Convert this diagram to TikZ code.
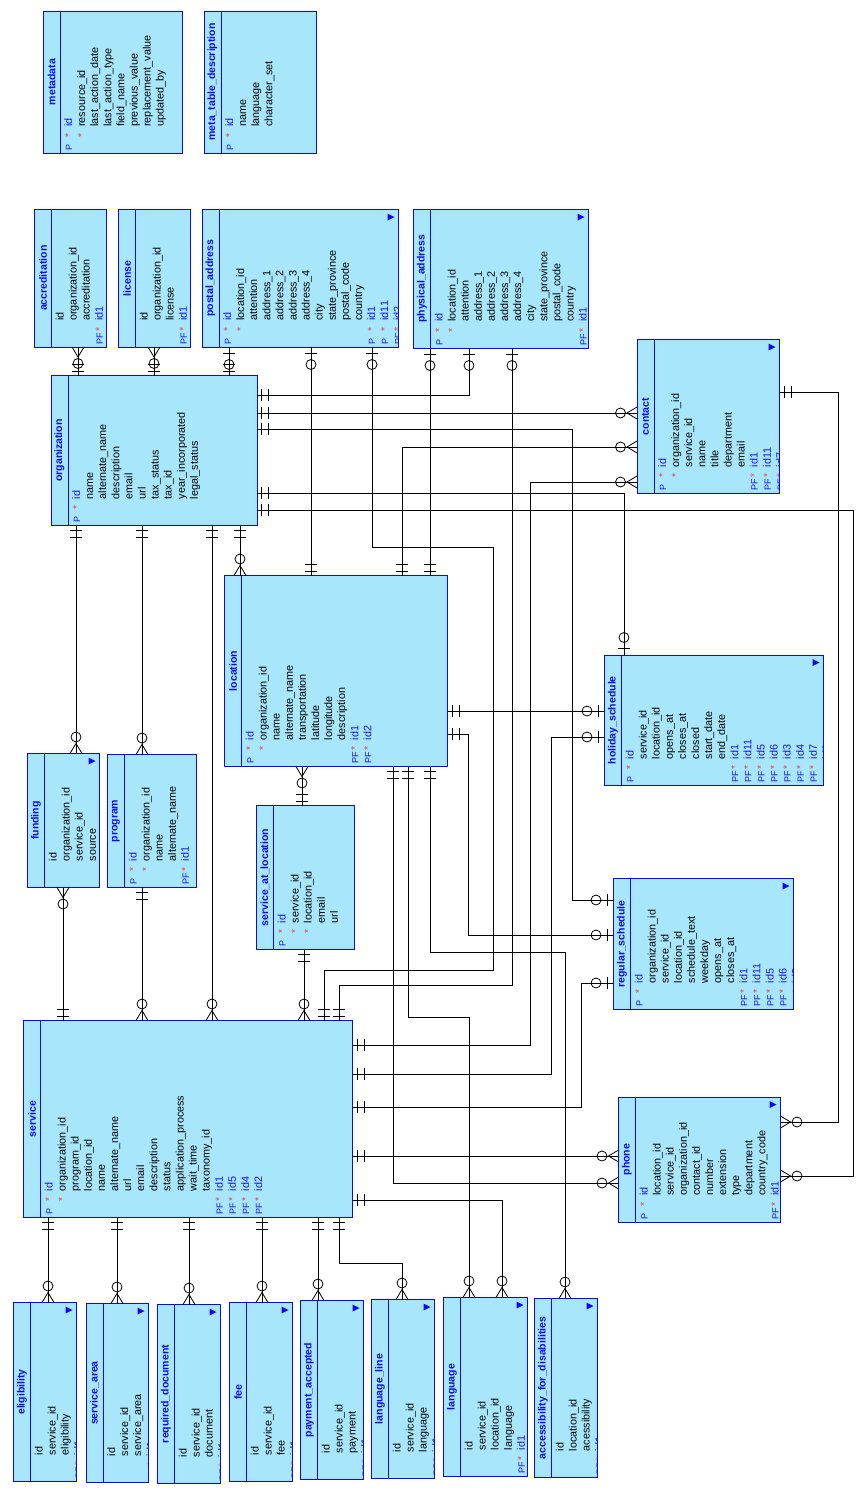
\documentclass[tikz,border=0pt]{standalone}
\usepackage{fontspec}
\setmainfont{Liberation Sans}
\usetikzlibrary{decorations.markings}

\definecolor{tblfill}{RGB}{168,230,252}
\definecolor{tblblue}{RGB}{10,10,240}
\definecolor{keyblue}{RGB}{20,20,230}
\definecolor{starred}{RGB}{235,70,70}

\tikzset{
		tblbox/.style   = {rectangle, fill=tblfill, anchor=north west,
				inner sep=0pt, outer sep=0pt},
		tbledge/.style  = {draw=tblblue, line width=0.9pt},
		tbltitle/.style = {rotate=90, inner sep=0pt, text=tblblue,
				font=\bfseries\fontsize{10.5}{12}\selectfont},
		fldtxt/.style   = {rotate=90, anchor=base west, inner sep=0pt,
				font=\fontsize{10.8}{13}\selectfont},
		keytxt/.style   = {fldtxt, text=keyblue, font=\fontsize{9}{10}\selectfont},
		startxt/.style  = {fldtxt, text=starred, font=\fontsize{10.5}{12}\selectfont},
		link/.style     = {draw=black, line width=0.8pt},
		one start/.style = {postaction={decorate, decoration={markings,
				mark=at position 4.5pt with {\draw (0,-6pt) -- (0,6pt);},
				mark=at position 11.5pt with {\draw (0,-6pt) -- (0,6pt);}}}},
		one end/.style = {postaction={decorate, decoration={markings,
				mark=at position -4.5pt with {\draw (0,-6pt) -- (0,6pt);},
				mark=at position -11.5pt with {\draw (0,-6pt) -- (0,6pt);}}}},
		opt start/.style = {postaction={decorate, decoration={markings,
				mark=at position 6.5pt with {\draw (0,-6pt) -- (0,6pt);},
				mark=at position 17.5pt with {\draw (0,0) circle (5pt);}}}},
		opt end/.style = {postaction={decorate, decoration={markings,
				mark=at position -6.5pt with {\draw (0,-6pt) -- (0,6pt);},
				mark=at position -17.5pt with {\draw (0,0) circle (5pt);}}}},
		many start/.style = {postaction={decorate, decoration={markings,
				mark=at position 10pt with {\draw (-10pt,-6pt) -- (0,0) -- (-10pt,6pt);},
				mark=at position 16.5pt with {\draw (0,0) circle (5pt);}}}},
		many end/.style = {postaction={decorate, decoration={markings,
				mark=at position -10pt with {\draw (10pt,-6pt) -- (0,0) -- (10pt,6pt);},
				mark=at position -16.5pt with {\draw (0,0) circle (5pt);}}}}
	}

\def\rowdash{-}
\def\rowstar{*}

% #1 name, #2 x, #3 y, #4 width, #5 height, #6 title, #7 rows, #8 more columns
\newcommand{\ertable}[8]{%
	\node[tblbox, minimum width=#4, minimum height=#5] (#1) at (#2,#3) {};
	\begin{scope}
		\clip (#1.north west) rectangle (#1.south east);
		\pgfmathsetmacro\by{#3+#5}
		\foreach \rk/\rs/\rn [count=\i from 0] in {#7} {
			\pgfmathsetmacro\bx{#2+29+13.1*\i}
			\ifx\rk\rowdash\def\fldcol{black}\else\def\fldcol{keyblue}%
				\node[keytxt] at (\bx,\by-2.5) {\rk};\fi
			\ifx\rs\rowstar\node[startxt] at (\bx,\by-15.5) {*};\fi
			\node[fldtxt, text=\fldcol] at (\bx,\by-26) {\rn};
		}
	\end{scope}
	\draw[tbledge] (#1.north west) rectangle (#1.south east);
	\draw[tbledge] (#2+17,#3) -- (#2+17,#3+#5);
	\node[tbltitle] at (#2+8.5,#3+#5/2) {#6};
	\ifnum#8=1 \fill[tblblue] (#2+#4-11,#3+4) -- (#2+#4-4,#3+7.5) -- (#2+#4-11,#3+11) -- cycle;\fi
}

\begin{document}
\begin{tikzpicture}[x=1pt, y=-1pt, line width=0.8pt]
	\useasboundingbox (0,0) rectangle (867,1492);
	\fill[white] (0,0) rectangle (867,1492);

	% top tables
	\ertable{meta}{43}{11}{139}{142}{metadata}{P/*/id,-/*/resource\_id,-/-/last\_action\_date,-/-/last\_action\_type,-/-/field\_name,-/-/previous\_value,-/-/replacement\_value,-/-/updated\_by}{0}
	\ertable{metadesc}{204}{11}{112.5}{142}{meta\_table\_description}{P/*/id,-/-/name,-/-/language,-/-/character\_set}{0}
	\ertable{accr}{34.5}{209.5}{71.5}{137.5}{accreditation}{-/-/id,-/-/organization\_id,-/-/accreditation,PF/*/id1}{0}
	\ertable{lic}{118.5}{209.5}{72}{137.5}{license}{-/-/id,-/-/organization\_id,-/-/license,PF/*/id1}{0}
	\ertable{postal}{202}{209.5}{196.5}{137.5}{postal\_address}{P/*/id,-/*/location\_id,-/-/attention,-/-/address\_1,-/-/address\_2,-/-/address\_3,-/-/address\_4,-/-/city,-/-/state\_province,-/-/postal\_code,-/-/country,P/*/id1,P/*/id11,PF/*/id2}{1}
	\ertable{phys}{413.5}{209.5}{175}{138.5}{physical\_address}{P/*/id,-/*/location\_id,-/-/attention,-/-/address\_1,-/-/address\_2,-/-/address\_3,-/-/address\_4,-/-/city,-/-/state\_province,-/-/postal\_code,-/-/country,PF/*/id1}{1}
	\ertable{contact}{637}{339.5}{142.5}{154}{contact}{P/*/id,-/*/organization\_id,-/-/service\_id,-/-/name,-/-/title,-/-/department,-/-/email,PF/*/id1,PF/*/id11,PF/*/id7}{1}

	% middle tables
	\ertable{org}{51}{375.5}{206}{150}{organization}{P/*/id,-/-/name,-/-/alternate\_name,-/-/description,-/-/email,-/-/url,-/-/tax\_status,-/-/tax\_id,-/-/year\_incorporated,-/-/legal\_status}{0}
	\ertable{loc}{224.5}{575.5}{223}{191}{location}{P/*/id,-/*/organization\_id,-/-/name,-/-/alternate\_name,-/-/transportation,-/-/latitude,-/-/longitude,-/-/description,PF/*/id1,PF/*/id2}{0}
	\ertable{holiday}{604.5}{655}{219}{130.5}{holiday\_schedule}{P/*/id,-/-/service\_id,-/-/location\_id,-/-/opens\_at,-/-/closes\_at,-/-/closed,-/-/start\_date,-/-/end\_date,PF/*/id1,PF/*/id11,PF/*/id5,PF/*/id6,PF/*/id3,PF/*/id4,PF/*/id7,PF/*/id2}{1}
	\ertable{regular}{613.5}{878.5}{180}{131}{regular\_schedule}{P/*/id,-/-/organization\_id,-/-/service\_id,-/-/location\_id,-/-/schedule\_text,-/-/weekday,-/-/opens\_at,-/-/closes\_at,PF/*/id1,PF/*/id11,PF/*/id5,PF/*/id6,PF/*/id2}{1}
	\ertable{funding}{27.5}{753.5}{72}{134}{funding}{-/-/id,-/-/organization\_id,-/-/service\_id,-/-/source}{1}
	\ertable{program}{107.5}{754.5}{89}{133}{program}{P/*/id,-/*/organization\_id,-/-/name,-/-/alternate\_name,PF/*/id1}{0}
	\ertable{sal}{256.5}{805.5}{98}{144}{service\_at\_location}{P/*/id,-/*/service\_id,-/*/location\_id,-/-/email,-/-/url}{0}
	\ertable{service}{23.5}{1020.5}{329}{197}{service}{P/*/id,-/*/organization\_id,-/-/program\_id,-/-/location\_id,-/-/name,-/-/alternate\_name,-/-/url,-/-/email,-/-/description,-/-/status,-/-/application\_process,-/-/wait\_time,-/-/taxonomy\_id,PF/*/id1,PF/*/id5,PF/*/id4,PF/*/id2}{0}
	\ertable{phone}{618.5}{1097}{162}{125}{phone}{P/*/id,-/-/location\_id,-/-/service\_id,-/-/organization\_id,-/-/contact\_id,-/-/number,-/-/extension,-/-/type,-/-/department,-/-/country\_code,PF/*/id1}{1}

	% bottom tables
	\ertable{elig}{13.5}{1302.5}{63}{179}{eligibility}{-/-/id,-/-/service\_id,-/-/eligibility,PF/*/id1}{1}
	\ertable{sarea}{86}{1303.5}{62.5}{179}{service\_area}{-/-/id,-/-/service\_id,-/-/service\_area,PF/*/id1}{1}
	\ertable{reqdoc}{157.5}{1304.5}{63}{179}{required\_document}{-/-/id,-/-/service\_id,-/-/document,PF/*/id1}{1}
	\ertable{fee}{229.5}{1302.5}{63}{179}{fee}{-/-/id,-/-/service\_id,-/-/fee,PF/*/id1}{1}
	\ertable{payment}{300.5}{1300.5}{63}{179}{payment\_accepted}{-/-/id,-/-/service\_id,-/-/payment,PF/*/id1}{1}
	\ertable{langline}{371.5}{1299.5}{63}{179}{language\_line}{-/-/id,-/-/service\_id,-/-/language,PF/*/id1}{1}
	\ertable{lang}{443.5}{1297.5}{84}{179}{language}{-/-/id,-/-/service\_id,-/-/location\_id,-/-/language,PF/*/id1}{1}
	\ertable{access}{534.5}{1298.5}{63}{179}{accessibility\_for\_disabilities}{-/-/id,-/-/location\_id,-/-/acessibility,PF/*/id1}{1}

	% relations above organization
	\draw[link, many start, one end] (accr.south -| 78,0) -- (org.north -| 78,0);
	\draw[link, many start, one end] (lic.south -| 154,0) -- (org.north -| 154,0);
	\draw[link, opt start, one end] (postal.south -| 229,0) -- (org.north -| 229,0);
	\draw[link, opt start, one end] (postal.south -| 311,0) -- (loc.north -| 311,0);
	\draw[link, opt start, one end] (postal.south -| 372,0) |- (493,547) |- (324,970) -- (service.north -| 324,0);
	\draw[link, opt start, one end] (phys.south -| 430,0) -- (loc.north -| 430,0);
	\draw[link, one start, opt end] (org.east |- 0,395) -| (phys.south -| 469,0);
	\draw[link, opt start, one end] (phys.south -| 512,0) |- (339,985) -- (service.north -| 339,0);

	% organization to the right
	\draw[link, one start, many end] (org.east |- 0,413) -- (contact.west |- 0,413);
	\draw[link, one start, opt end] (org.east |- 0,429) -| (572,900) -- (regular.west |- 0,900);
	\draw[link, one start, opt end] (org.east |- 0,493) -| (holiday.north -| 624,0);
	\draw[link, one start, many end] (org.east |- 0,510) -| (853,1176) -- (phone.east |- 0,1176);
	\draw[link, one start, many end] (contact.east |- 0,392) -| (838,1122) -- (phone.east |- 0,1122);
	\draw[link, one start, many end] (loc.north -| 402,0) |- (contact.west |- 0,447);
	\draw[link, one start, many end] (service.east |- 0,1045) -| (530,482) -- (contact.west |- 0,482);

	% organization downwards
	\draw[link, one start, many end] (org.south -| 76,0) -- (funding.north -| 76,0);
	\draw[link, one start, many end] (org.south -| 142,0) -- (program.north -| 142,0);
	\draw[link, one start, many end] (org.south -| 212,0) -- (service.north -| 212,0);
	\draw[link, one start, many end] (org.south -| 240,0) -- (loc.north -| 240,0);
	\draw[link, many start, one end] (funding.south -| 63,0) -- (service.north -| 63,0);
	\draw[link, one start, many end] (program.south -| 142,0) -- (service.north -| 142,0);

	% location
	\draw[link, many start, one end] (loc.south -| 302,0) -- (sal.north -| 302,0);
	\draw[link, one start, many end] (sal.south -| 304,0) -- (service.north -| 304,0);
	\draw[link, one start, opt end] (loc.east |- 0,711) -- (holiday.west |- 0,711);
	\draw[link, one start, opt end] (loc.east |- 0,734) -| (468,935) -- (regular.west |- 0,935);
	\draw[link, one start, many end] (loc.south -| 393,0) |- (phone.west |- 0,1183);
	\draw[link, one start, many end] (loc.south -| 408,0) |- (469,1017) -- (lang.north -| 469,0);
	\draw[link, one start, many end] (loc.south -| 430,0) |- (565,952) -- (access.north -| 565,0);

	% service to the right
	\draw[link, one start, opt end] (service.east |- 0,1074) -| (551,737) -- (holiday.west |- 0,737);
	\draw[link, one start, opt end] (service.east |- 0,1107) -| (581,983) -- (regular.west |- 0,983);
	\draw[link, one start, many end] (service.east |- 0,1156) -- (phone.west |- 0,1156);
	\draw[link, one start, many end] (service.east |- 0,1200) -| (lang.north -| 502,0);

	% service downwards
	\draw[link, one start, many end] (service.south -| 48,0) -- (elig.north -| 48,0);
	\draw[link, one start, many end] (service.south -| 117,0) -- (sarea.north -| 117,0);
	\draw[link, one start, many end] (service.south -| 189,0) -- (reqdoc.north -| 189,0);
	\draw[link, one start, many end] (service.south -| 262,0) -- (fee.north -| 262,0);
	\draw[link, one start, many end] (service.south -| 318,0) -- (payment.north -| 318,0);
	\draw[link, one start, many end] (service.south -| 339,0) |- (402,1263) -- (langline.north -| 402,0);
\end{tikzpicture}
\end{document}
